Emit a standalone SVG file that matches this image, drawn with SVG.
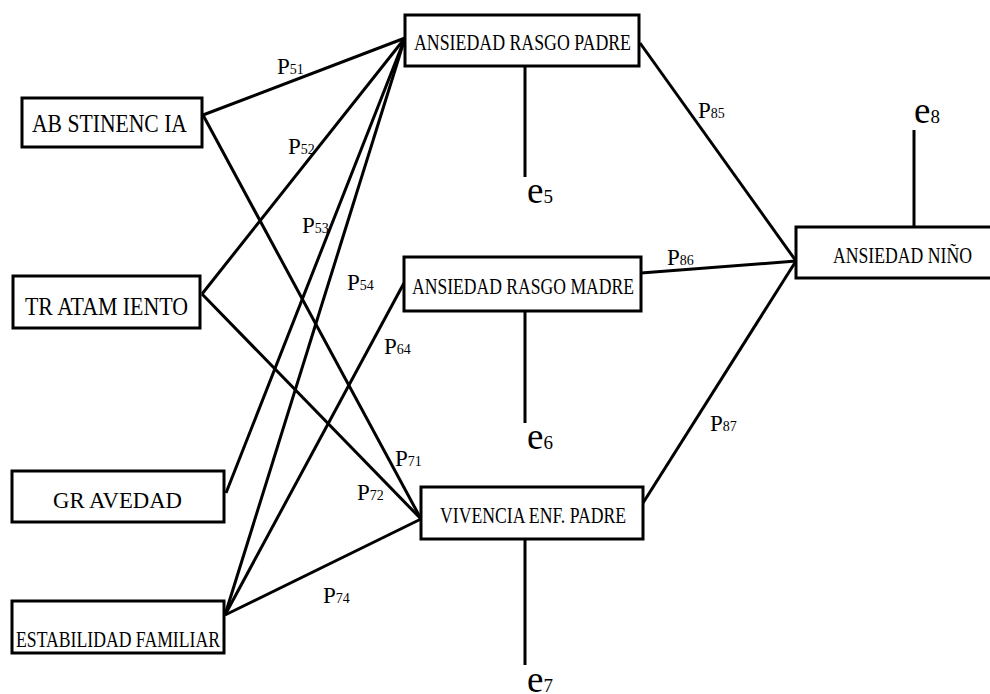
<svg xmlns="http://www.w3.org/2000/svg" width="990" height="694" viewBox="0 0 990 694">
<style>
.box{fill:#fff;stroke:#000;stroke-width:3}
.ln{stroke:#000;stroke-width:3;fill:none;stroke-linecap:butt}
.t{font-family:"Liberation Serif","Times New Roman",serif;fill:#000}
.bt{font-size:23px}
.bl{font-size:26px}
.p{font-size:23px}
.ps{font-size:14px}
.e{font-size:37px}
.es{font-size:19px}
</style>
<rect width="990" height="694" fill="#fff"/>
<g id="connectors">
<line class="ln" x1="203" y1="115" x2="405" y2="38"/>
<line class="ln" x1="203" y1="115" x2="421" y2="519"/>
<line class="ln" x1="202" y1="294" x2="405" y2="38"/>
<line class="ln" x1="202" y1="294" x2="421" y2="519"/>
<line class="ln" x1="226" y1="493" x2="405" y2="38"/>
<line class="ln" x1="225" y1="615" x2="405" y2="38"/>
<line class="ln" x1="225" y1="615" x2="404" y2="283"/>
<line class="ln" x1="225" y1="615" x2="421" y2="519"/>
<line class="ln" x1="640" y1="43" x2="796" y2="261"/>
<line class="ln" x1="641" y1="273" x2="796" y2="261"/>
<line class="ln" x1="643" y1="503" x2="796" y2="261"/>
<line class="ln" x1="525" y1="66" x2="525" y2="177"/>
<line class="ln" x1="525" y1="311" x2="525" y2="423"/>
<line class="ln" x1="525" y1="539" x2="525" y2="665"/>
<line class="ln" x1="914" y1="130" x2="914" y2="227"/>
</g>
<g id="labels">
<text class="t p" x="277" y="74">P<tspan class="ps">51</tspan></text>
<text class="t p" x="288" y="154">P<tspan class="ps">52</tspan></text>
<text class="t p" x="302" y="233">P<tspan class="ps">53</tspan></text>
<text class="t p" x="347" y="290">P<tspan class="ps">54</tspan></text>
<text class="t p" x="384" y="354">P<tspan class="ps">64</tspan></text>
<text class="t p" x="395" y="466">P<tspan class="ps">71</tspan></text>
<text class="t p" x="357" y="500">P<tspan class="ps">72</tspan></text>
<text class="t p" x="323" y="603">P<tspan class="ps">74</tspan></text>
<text class="t p" x="698" y="118">P<tspan class="ps">85</tspan></text>
<text class="t p" x="667" y="265">P<tspan class="ps">86</tspan></text>
<text class="t p" x="710" y="431">P<tspan class="ps">87</tspan></text>
<text class="t e" x="527" y="203">e<tspan class="es">5</tspan></text>
<text class="t e" x="527" y="449">e<tspan class="es">6</tspan></text>
<text class="t e" x="527" y="692">e<tspan class="es">7</tspan></text>
<text class="t e" x="914" y="123">e<tspan class="es">8</tspan></text>
</g>
<g id="abstinencia">
<rect class="box" x="22" y="98" width="180" height="49"/>
<text class="t bl" x="32" y="132" textLength="155" lengthAdjust="spacingAndGlyphs">AB STINENC IA</text>
</g>
<g id="tratamiento">
<rect class="box" x="13" y="276" width="187" height="52"/>
<text class="t bl" x="25" y="315" textLength="163" lengthAdjust="spacingAndGlyphs">TR ATAM IENTO</text>
</g>
<g id="gravedad">
<rect class="box" x="12" y="471" width="212" height="51"/>
<text class="t bt" x="53" y="508" textLength="129" lengthAdjust="spacingAndGlyphs">GR AVEDAD</text>
</g>
<g id="estabilidad">
<rect class="box" x="12" y="601" width="212" height="52"/>
<text class="t bt" x="16" y="647" textLength="204" lengthAdjust="spacingAndGlyphs">ESTABILIDAD FAMILIAR</text>
</g>
<g id="padre">
<rect class="box" x="405" y="15" width="234" height="51"/>
<text class="t bt" x="414" y="50" textLength="217" lengthAdjust="spacingAndGlyphs">ANSIEDAD RASGO PADRE</text>
</g>
<g id="madre">
<rect class="box" x="404" y="257" width="237" height="54"/>
<text class="t bt" x="412" y="294" textLength="222" lengthAdjust="spacingAndGlyphs">ANSIEDAD RASGO MADRE</text>
</g>
<g id="vivencia">
<rect class="box" x="421" y="487" width="222" height="52"/>
<text class="t bt" x="440" y="523" textLength="186" lengthAdjust="spacingAndGlyphs">VIVENCIA ENF. PADRE</text>
</g>
<g id="nino">
<rect class="box" x="796" y="227" width="200" height="51"/>
<text class="t bt" x="833" y="263" textLength="139" lengthAdjust="spacingAndGlyphs">ANSIEDAD NIÑO</text>
</g>
</svg>
